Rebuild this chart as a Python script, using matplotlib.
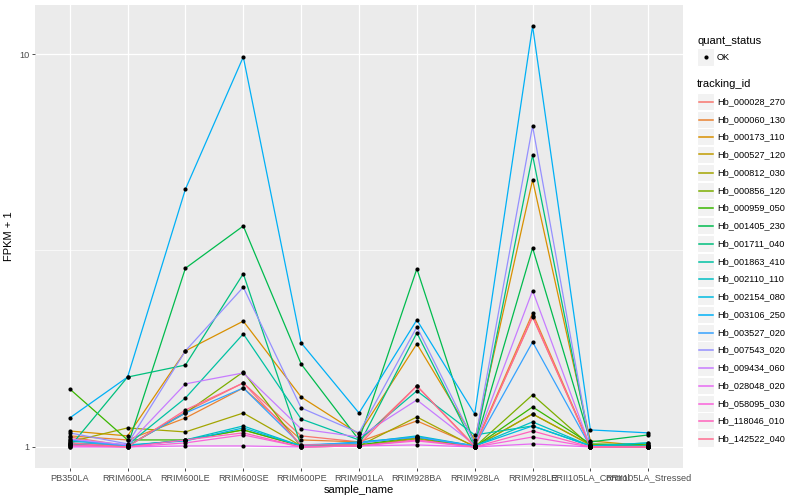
import numpy as np
import matplotlib
matplotlib.use("Agg")
import matplotlib.pyplot as plt
from matplotlib.patches import Rectangle
from matplotlib.lines import Line2D
from matplotlib.ticker import FixedLocator, NullFormatter

plt.rcParams['font.family'] = ['Liberation Sans', 'DejaVu Sans']

# samples (x axis)
samples = ['PB350LA', 'RRIM600LA', 'RRIM600LE', 'RRIM600SE', 'RRIM600PE', 'RRIM901LA',
           'RRIM928BA', 'RRIM928LA', 'RRIM928LE', 'RRII105LA_Control', 'RRII105LA_Stressed']

# genes (one line each)
tracking_ids = ['Hb_000028_270', 'Hb_000060_130', 'Hb_000173_110', 'Hb_000527_120',
                'Hb_000812_030', 'Hb_000856_120', 'Hb_000959_050', 'Hb_001405_230',
                'Hb_001711_040', 'Hb_001863_410', 'Hb_002110_110', 'Hb_002154_080',
                'Hb_003106_250', 'Hb_003527_020', 'Hb_007543_020', 'Hb_009434_060',
                'Hb_028048_020', 'Hb_058095_030', 'Hb_118046_010', 'Hb_142522_040']

# FPKM values (same order as samples)
fpkm_000028_270 = [0.060, 0.006, 0.228, 0.455, 0.067, 0.030, 0.430, 0.006, 1.14, 0.0, 0.0]
fpkm_000060_130 = [0.067, 0.042, 0.185, 0.413, 0.042, 0.030, 0.165, 0.006, 1.19, 0.0, 0.0]
fpkm_000173_110 = [0.098, 0.067, 0.756, 1.09, 0.340, 0.079, 0.830, 0.042, 3.78, 0.036, 0.006]
fpkm_000527_120 = [0.012, 0.006, 0.042, 0.105, 0.006, 0.006, 0.054, 0.0, 0.213, 0.012, 0.012]
fpkm_000812_030 = [0.030, 0.118, 0.092, 0.220, 0.006, 0.006, 0.192, 0.0, 0.213, 0.012, 0.006]
fpkm_000856_120 = [0.018, 0.006, 0.220, 0.552, 0.0, 0.006, 0.048, 0.0, 0.357, 0.006, 0.006]
fpkm_000959_050 = [0.405, 0.042, 0.042, 0.105, 0.006, 0.012, 0.060, 0.0, 0.264, 0.018, 0.012]
fpkm_001405_230 = [0.012, 0.006, 1.85, 2.65, 0.626, 0.042, 1.84, 0.006, 2.21, 0.030, 0.073]
fpkm_001711_040 = [0.0, 0.506, 0.616, 1.76, 0.006, 0.012, 0.951, 0.0, 4.53, 0.006, 0.0]
fpkm_001863_410 = [0.036, 0.012, 0.332, 0.940, 0.178, 0.042, 0.389, 0.073, 0.131, 0.006, 0.024]
fpkm_002110_110 = [0.018, 0.006, 0.042, 0.131, 0.006, 0.024, 0.067, 0.006, 0.158, 0.006, 0.024]
fpkm_002154_080 = [0.024, 0.012, 0.036, 0.118, 0.006, 0.030, 0.060, 0.006, 0.131, 0.006, 0.006]
fpkm_003106_250 = [0.185, 0.506, 3.53, 8.83, 0.840, 0.220, 1.105, 0.213, 10.78, 0.105, 0.086]
fpkm_003527_020 = [0.042, 0.006, 0.220, 0.413, 0.012, 0.024, 0.060, 0.006, 0.850, 0.0, 0.0]
fpkm_007543_020 = [0.086, 0.018, 0.756, 1.55, 0.257, 0.086, 1.02, 0.024, 5.56, 0.0, 0.0]
fpkm_009434_060 = [0.048, 0.012, 0.447, 0.543, 0.111, 0.060, 0.317, 0.012, 1.50, 0.0, 0.0]
fpkm_028048_020 = [0.0, 0.0, 0.006, 0.006, 0.0, 0.006, 0.012, 0.0, 0.018, 0.0, 0.0]
fpkm_058095_030 = [0.006, 0.0, 0.024, 0.073, 0.0, 0.006, 0.036, 0.0, 0.060, 0.0, 0.0]
fpkm_118046_010 = [0.012, 0.0, 0.042, 0.086, 0.0, 0.006, 0.042, 0.0, 0.098, 0.0, 0.0]
fpkm_142522_040 = [0.024, 0.0, 0.242, 0.455, 0.012, 0.012, 0.430, 0.0, 1.15, 0.0, 0.0]

series = [fpkm_000028_270, fpkm_000060_130, fpkm_000173_110, fpkm_000527_120,
          fpkm_000812_030, fpkm_000856_120, fpkm_000959_050, fpkm_001405_230,
          fpkm_001711_040, fpkm_001863_410, fpkm_002110_110, fpkm_002154_080,
          fpkm_003106_250, fpkm_003527_020, fpkm_007543_020, fpkm_009434_060,
          fpkm_028048_020, fpkm_058095_030, fpkm_118046_010, fpkm_142522_040]

# ggplot default hue palette, 20 levels
colors = ['#F8766D', '#EA8331', '#D89000', '#C09B00', '#A3A500', '#7CAE00', '#39B600',
          '#00BB4E', '#00BF7D', '#00C1A3', '#00BFC4', '#00BAE0', '#00B0F6', '#35A2FF',
          '#9590FF', '#C77CFF', '#E76BF3', '#FA62DB', '#FF62BC', '#FF6C91']

W, H = 800, 500
fig = plt.figure(figsize=(8, 5), dpi=100)
L, R, T, B = 35, 683, 5, 468
ax = fig.add_axes([L / W, 1 - B / H, (R - L) / W, (B - T) / H])
ax.set_facecolor('#EBEBEB')

x = np.arange(len(samples))
for vals, col in zip(series, colors):
    ax.plot(x, np.array(vals) + 1, color=col, lw=0.9, zorder=3)
for vals in series:
    ax.plot(x, np.array(vals) + 1, 'o', color='black', ms=3.0, mew=0, zorder=4)

ax.set_yscale('log')
allv = np.log10(np.concatenate(series) + 1)
lo, hi = allv.min(), allv.max()
pad = 0.05 * (hi - lo)
ax.set_ylim(10 ** (lo - pad), 10 ** (hi + pad))
ax.set_xlim(-0.6, len(samples) - 0.4)

ax.yaxis.set_major_locator(FixedLocator([1, 10]))
ax.set_yticklabels(['1', '10'])
ax.yaxis.set_minor_locator(FixedLocator([10 ** 0.5]))
ax.yaxis.set_minor_formatter(NullFormatter())
ax.set_xticks(x)
ax.set_xticklabels(samples)

ax.grid(True, which='major', color='white', lw=0.9, zorder=1)
ax.grid(True, which='minor', axis='y', color='white', lw=0.45, zorder=1)
ax.set_axisbelow(True)
for s in ax.spines.values():
    s.set_visible(False)
ax.tick_params(axis='both', which='major', length=2.5, width=0.6, color='#333333',
               labelsize=6.6, labelcolor='#4D4D4D', pad=1.5)
ax.tick_params(axis='y', which='minor', length=0)

ax.set_xlabel('sample_name', fontsize=8, labelpad=2)
ax.set_ylabel('FPKM + 1', fontsize=8, labelpad=4)


# legends drawn in pixel coordinates of the figure
def fx(px):
    return px / W


def fy(py):
    return 1 - py / H


key_x, key_w = 697, 17.3
fig.text(fx(697), fy(41), 'quant_status', fontsize=8, va='center', ha='left')
fig.add_artist(Rectangle((fx(key_x), fy(57 + key_w / 2)), key_w / W, key_w / H,
                         transform=fig.transFigure, facecolor='#F2F2F2', edgecolor='white',
                         lw=0.8, zorder=1))
fig.add_artist(Line2D([fx(key_x + key_w / 2)], [fy(57)], marker='o', color='black', ms=3.0,
                      mew=0, transform=fig.transFigure, zorder=3))
fig.text(fx(717), fy(57), 'OK', fontsize=6.6, va='center', ha='left')

fig.text(fx(697), fy(84), 'tracking_id', fontsize=8, va='center', ha='left')
step = (438 - 101) / 19
for i, (name, col) in enumerate(zip(tracking_ids, colors)):
    yc = round(101 + i * step) + 0.5
    fig.add_artist(Rectangle((fx(key_x), fy(yc + key_w / 2)), key_w / W, key_w / H,
                             transform=fig.transFigure, facecolor='#F2F2F2',
                             edgecolor='white', lw=0.8, zorder=1))
    fig.add_artist(Line2D([fx(key_x + 1.5), fx(key_x + key_w - 1.5)], [fy(yc), fy(yc)],
                          color=col, lw=1.1, transform=fig.transFigure, zorder=3))
    fig.text(fx(717), fy(yc), name, fontsize=6.6, va='center', ha='left')

fig.savefig('out.png', dpi=100)
